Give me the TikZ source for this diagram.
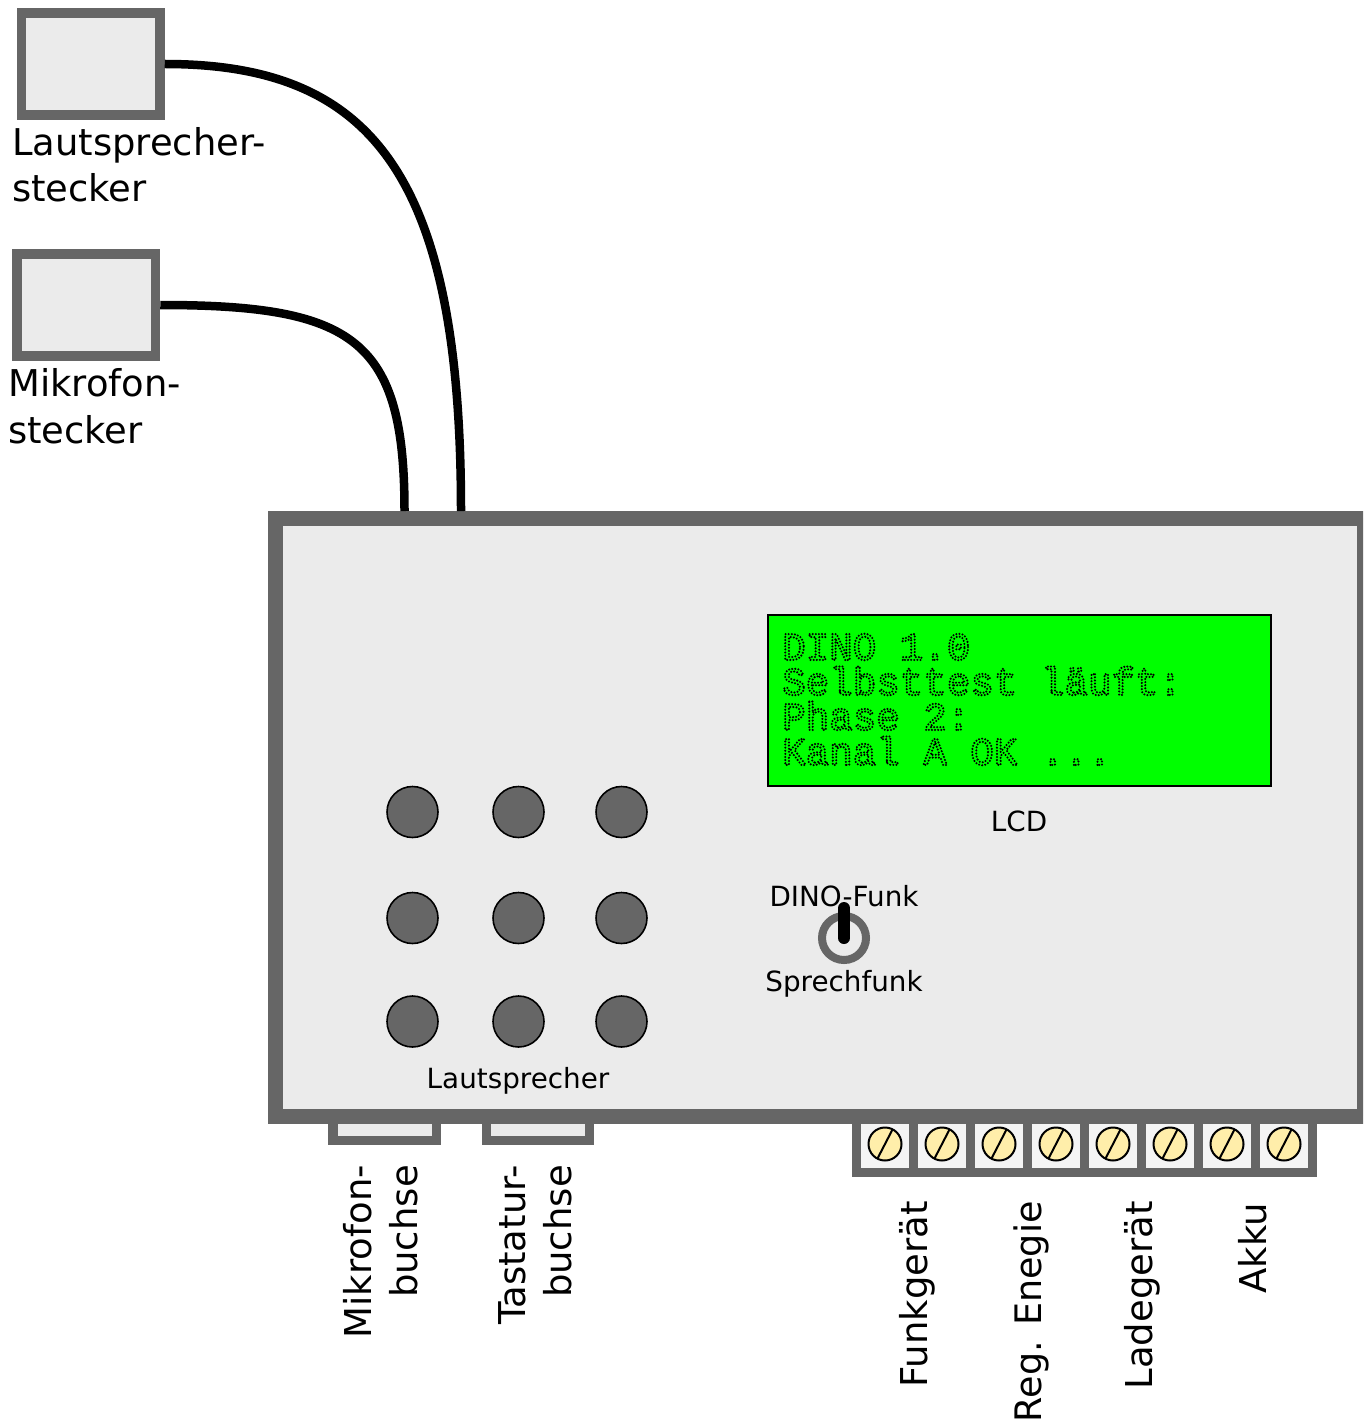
\documentclass[tikz,border=0pt]{standalone}
\usepackage{fontspec}
\usetikzlibrary{calc}
\setmainfont{DejaVu Sans}
\newfontfamily\lcdfont{Liberation Mono}
\definecolor{frame}{HTML}{666666}
\definecolor{panel}{HTML}{EBEBEB}
\definecolor{cell}{HTML}{F4F4F4}
\definecolor{lcdgreen}{HTML}{00FF00}
\definecolor{screwc}{HTML}{FFEEAA}
\newcommand{\dotted}[1]{\special{pdf:code 1 Tr 0 0 0 RG 2.3 w 1 J [0 3.1] 0 d}#1\special{pdf:code 0 Tr 1 w 0 J [] 0 d}}
\tikzset{
  plug/.style={draw=frame,fill=panel,line width=9.6pt,minimum width=138.5pt,minimum height=102pt,inner sep=0pt},
  cable/.style={draw=black,line width=8.5pt},
  bigtext/.style={font=\fontsize{36.9}{36.9}\selectfont,anchor=base west,inner sep=0pt},
  smalltext/.style={font=\fontsize{27.8}{27.8}\selectfont,anchor=base,inner sep=0pt},
  vertext/.style={font=\fontsize{37}{37}\selectfont,rotate=90,anchor=base east,inner sep=0pt},
  button/.style={circle,draw=black,fill=frame,line width=1.6pt,minimum size=51pt,inner sep=0pt},
  socket/.style={draw=frame,fill=panel,line width=9.4pt,minimum width=103.4pt,minimum height=22.3pt,inner sep=0pt},
  term/.style={draw=frame,fill=cell,line width=9.4pt,minimum width=57pt,minimum height=54.5pt,inner sep=0pt},
  screw/.style={circle,draw=black,fill=screwc,line width=2pt,minimum size=33pt,inner sep=0pt},
  lcdtext/.style={font=\lcdfont\fontsize{39.2}{35}\selectfont,anchor=west,align=left,inner sep=0pt,text=black}
}
\begin{document}
\begin{tikzpicture}[x=1pt,y=-1pt]
\clip (0,0) rectangle (1363,1420);
\fill[white] (0,0) rectangle (1363,1420);
% sockets and terminals behind the housing
\node[socket] (micsock) at (384.7,1129.1) {};
\node[socket] (keysock) at (538,1129.1) {};
\foreach \i in {0,...,7}{
  \node[term] (t\i) at ({885+57*\i},1145.3) {};
}
\foreach \i in {0,...,7}{
  \node[screw] (s\i) at ({885+57*\i},1144) {};
  \draw[line width=2pt,line cap=butt] ($(s\i.center)+(-7.5,14.5)$) -- ($(s\i.center)+(7.5,-14.5)$);
}
% housing
\node[draw=frame,fill=panel,line width=15pt,minimum width=1089pt,minimum height=597.8pt,inner sep=0pt] (main) at (819.5,817.1) {};
\coordinate (micin) at (404.5,511);
\coordinate (spkin) at (461,511);
% plugs
\node[plug] (spk) at (90.7,64) {};
\node[plug] (mic) at (86.2,305) {};
\draw[cable] (spk.east) .. controls (372,64) and (461,175) .. (spkin);
\draw[cable] (mic.east) .. controls (355,305) and (404.5,340) .. (micin);
\node[bigtext] (l1) at (12,156) {Lautsprecher-};
\node[bigtext] (l2) at (12,202) {stecker};
\node[bigtext] (l3) at (8,396) {Mikrofon-};
\node[bigtext] (l4) at (8,443) {stecker};
% LCD
\node[draw=black,fill=lcdgreen,line width=2pt,minimum width=503.6pt,minimum height=170.7pt,inner sep=0pt] (lcd) at (1019.5,700.3) {};
\node[lcdtext] (lcdtxt) at (782,699.5) {\dotted{DINO 1.0}\\\dotted{Selbsttest läuft:}\\\dotted{Phase 2:}\\\dotted{Kanal A OK ...}};
\node[smalltext] (lcdl) at (1019,831) {LCD};
% buttons
\foreach \x/\cx in {a/412.5,b/518.5,c/621.5}{
  \foreach \y/\cy in {1/812,2/918,3/1021.5}{
    \node[button] (b\x\y) at (\cx,\cy) {};
  }
}
\node[smalltext] (lsl) at (518,1088) {Lautsprecher};
% switch
\node[smalltext] (dino) at (844,906) {DINO-Funk};
\node[circle,draw=frame,line width=8pt,minimum size=44pt,inner sep=0pt] (ring) at (844,938) {};
\draw[line width=12pt,line cap=round] (ring.center) -- ++(0,-30);
\node[smalltext] (spr) at (844,991) {Sprechfunk};
% vertical labels
\node[vertext] (v1) at (371.5,1165) {Mikrofon-};
\node[vertext] (v2) at (417.5,1165) {buchse};
\node[vertext] (v3) at (525,1165) {Tastatur-};
\node[vertext] (v4) at (571.5,1165) {buchse};
\node[vertext] (v5) at (927.5,1201) {Funkgerät};
\node[vertext,font=\fontsize{36.5}{36.5}\selectfont] (v6) at (1041.5,1201) {Reg. Enegie};
\node[vertext] (v7) at (1152,1201) {Ladegerät};
\node[vertext] (v8) at (1266,1203) {Akku};
\end{tikzpicture}
\end{document}
